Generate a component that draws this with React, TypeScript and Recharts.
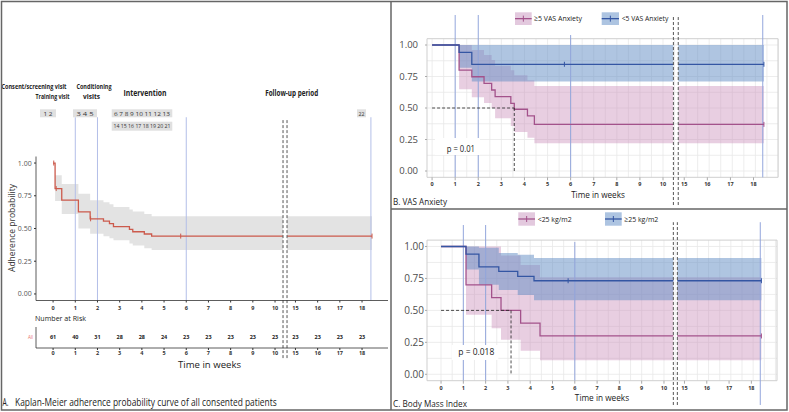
import React from 'react';
import {
  ComposedChart, Line, Area, XAxis, YAxis, CartesianGrid,
  ReferenceLine, ReferenceArea, Scatter, LabelList,
} from 'recharts';

// ---------------- data ----------------
const weekTicks = [0, 1, 2, 3, 4, 5, 6, 7, 8, 9, 10, 15, 16, 17, 18];
const probTicks = [0, 0.25, 0.5, 0.75, 1];
const visitWeeks = [1, 2, 6, 18.4];
const END_WEEK = 18.45;

// Panel A – all consented patients
const allTimes = [0, 0.09, 0.39, 1.14, 1.67, 2.27, 2.54, 2.72, 3.44, 3.59, 4.11, 4.44];
const allSurv = [1, 0.805, 0.716, 0.627, 0.574, 0.556, 0.538, 0.515, 0.493, 0.475, 0.458, 0.442];
const allLower = [1, 0.71, 0.61, 0.5, 0.46, 0.44, 0.425, 0.41, 0.385, 0.37, 0.35, 0.335];
const allUpper = [1, 0.906, 0.84, 0.766, 0.716, 0.7, 0.685, 0.665, 0.645, 0.63, 0.61, 0.594];
const allCensor = [0.03, 0.14, 1.69, 5.75, 18.45];
const atRisk = [61, 40, 31, 28, 28, 24, 23, 23, 23, 23, 23, 23, 23, 23, 23];

// Panel B – VAS anxiety
const vasHighTimes = [0, 1.17, 1.72, 2.25, 2.58, 2.73, 3.41, 3.56, 4.13, 4.43];
const vasHighSurv = [1, 0.8, 0.748, 0.696, 0.643, 0.59, 0.537, 0.49, 0.437, 0.37];
const vasHighLower = [1, 0.648, 0.585, 0.54, 0.5, 0.418, 0.357, 0.31, 0.264, 0.22];
const vasHighUpper = [1, 1, 0.96, 0.92, 0.88, 0.836, 0.8, 0.76, 0.72, 0.675];
const vasHighCensor = [18.45];
const vasLowTimes = [0, 1.17, 1.72];
const vasLowSurv = [1, 0.942, 0.847];
const vasLowLower = [1, 0.82, 0.71];
const vasLowUpper = [1, 1, 1];
const vasLowCensor = [5.73, 18.45];
const vasMedian = 3.56;

// Panel C – body mass index
const bmiLowTimes = [0, 1.12, 2.27, 2.69, 3.57, 4.44];
const bmiLowSurv = [1, 0.7, 0.6, 0.5, 0.4, 0.3];
const bmiLowLower = [1, 0.465, 0.36, 0.27, 0.185, 0.11];
const bmiLowUpper = [1, 1, 1, 0.93, 0.855, 0.76];
const bmiLowCensor = [18.45];
const bmiHighTimes = [0, 1.12, 1.7, 2.59, 3.44, 4.17];
const bmiHighSurv = [1, 0.94, 0.84, 0.805, 0.766, 0.732];
const bmiHighLower = [1, 0.82, 0.7, 0.66, 0.62, 0.58];
const bmiHighUpper = [1, 1, 0.99, 0.95, 0.935, 0.91];
const bmiHighCensor = [5.7, 18.45];
const bmiMedian = 3.14;

// ---------------- helpers ----------------
const SHIFT = 4.08; // axis break: weeks 11-14 are cut out
const pos = (t: number) => (t >= 12 ? t - SHIFT : t);
const tickPos = weekTicks.map(pos);
const tickLabel = (v: number) => {
  const i = tickPos.findIndex((p) => Math.abs(p - v) < 1e-6);
  return i >= 0 ? String(weekTicks[i]) : '';
};
const survAt = (times: number[], surv: number[], t: number) => {
  let v = surv[0];
  times.forEach((tt, i) => { if (tt <= t) v = surv[i]; });
  return v;
};
function curve(times: number[], surv: number[], brk: number[]) {
  const last = surv[surv.length - 1];
  const pre = times.map((t, i) => ({ x: pos(t), y: surv[i] })).concat([{ x: brk[0], y: last }]);
  const post = [{ x: brk[1], y: last }, { x: pos(END_WEEK), y: last }];
  return { pre, post };
}
function band(times: number[], lo: number[], hi: number[], brk: number[]) {
  const n = times.length - 1;
  const pre = times.map((t, i) => ({ x: pos(t), band: [lo[i], hi[i]] })).concat([{ x: brk[0], band: [lo[n], hi[n]] }]);
  const post = [{ x: brk[1], band: [lo[n], hi[n]] }, { x: pos(END_WEEK), band: [lo[n], hi[n]] }];
  return { pre, post };
}
const censorPts = (times: number[], surv: number[], c: number[]) =>
  c.map((t) => ({ x: pos(t), y: survAt(times, surv, t) }));

const tickShape = (color: string) => (p: any) => (
  <line x1={p.cx} x2={p.cx} y1={p.cy - 2.5} y2={p.cy + 2.5} stroke={color} strokeWidth={1} />
);

const bandAreas = (b: any, fill: string, op: number, key: string) => [
  <Area key={key + 'pre'} data={b.pre} dataKey="band" type="stepAfter" fill={fill} fillOpacity={op}
    stroke="none" dot={false} activeDot={false} isAnimationActive={false} />,
  <Area key={key + 'post'} data={b.post} dataKey="band" type="stepAfter" fill={fill} fillOpacity={op}
    stroke="none" dot={false} activeDot={false} isAnimationActive={false} />,
];
const curveLines = (c: any, color: string, key: string) => [
  <Line key={key + 'pre'} data={c.pre} dataKey="y" type="stepAfter" stroke={color} strokeWidth={1.3}
    dot={false} activeDot={false} isAnimationActive={false} />,
  <Line key={key + 'post'} data={c.post} dataKey="y" type="stepAfter" stroke={color} strokeWidth={1.3}
    dot={false} activeDot={false} isAnimationActive={false} />,
];
const vLine = (x: number, y0: number, y1: number, color: string, key: string, dash?: string) => (
  <ReferenceLine key={key} segment={[{ x, y: y0 }, { x, y: y1 }]} stroke={color}
    strokeWidth={1} strokeDasharray={dash} ifOverflow="visible" />
);

const PINK = '#a3528b';
const BLUE = '#3456a3';
const PINK_FILL = '#c78bb8';
const BLUE_FILL = '#5f8cc4';
const VISIT = '#93a6dc';
const FONT = "'Open Sans', sans-serif";

// ---------------- text helper ----------------
const T = ({ x, y, w, size = 9.5, weight = 400, fill = '#222', anchor = 'start', rotate = false, children }: any) => (
  <text x={x} y={y} fontSize={size} fontWeight={weight} fill={fill} textAnchor={anchor}
    textLength={w} lengthAdjust="spacingAndGlyphs"
    transform={rotate ? `rotate(-90 ${x} ${y})` : undefined}>{children}</text>
);

// ---------------- Panel A ----------------
const A_DOM = [-0.77, 15.09];
const aCurve = curve(allTimes, allSurv, [10.36, 10.54]);
const aBand = band(allTimes, allLower, allUpper, [10.36, 10.54]);

function PanelA() {
  return (
    <div style={{ position: 'absolute', left: 0, top: 100 }}>
      <ComposedChart width={391} height={265} margin={{ top: 56.5, right: 3, bottom: 44.5, left: 0 }}>
        <XAxis dataKey="x" type="number" domain={A_DOM} ticks={tickPos} interval={0} allowDataOverflow
          tickFormatter={tickLabel} height={20} tickSize={2} tickMargin={3.5}
          axisLine={{ stroke: '#333', strokeWidth: 0.8 }} tickLine={{ stroke: '#333' }}
          tick={{ fontSize: 5.5, fontWeight: 700, fill: '#333' }} />
        <YAxis dataKey="y" type="number" domain={[-0.05, 1.05]} ticks={probTicks} interval={0} allowDataOverflow
          width={36} tickSize={2} tickMargin={2.3} tickFormatter={(v: number) => v.toFixed(2)}
          axisLine={{ stroke: '#333', strokeWidth: 0.8 }} tickLine={{ stroke: '#333' }}
          tick={{ fontSize: 7, fill: '#555' }} />
        {bandAreas(aBand, '#e3e3e3', 1, 'ab')}
        {visitWeeks.map((w, i) => vLine(pos(w), -0.05, 1.35, '#b3bfe8', 'av' + i))}
        {curveLines(aCurve, '#cc5a4c', 'ac')}
        <Scatter data={censorPts(allTimes, allSurv, allCensor)} shape={tickShape('#cc5a4c')} isAnimationActive={false} />
        {vLine(10.36, -0.49, 1.33, '#555', 'ad1', '3 2')}
        {vLine(10.54, -0.49, 1.33, '#555', 'ad2', '3 2')}
      </ComposedChart>
    </div>
  );
}

const riskData = weekTicks.map((w, i) => ({ x: pos(w), y: 0.5, n: atRisk[i] }));

function RiskTable() {
  return (
    <div style={{ position: 'absolute', left: 0, top: 322 }}>
      <ComposedChart width={391} height={40} margin={{ top: 5, right: 3, bottom: 2, left: 0 }}>
        <XAxis dataKey="x" type="number" domain={A_DOM} ticks={tickPos} interval={0} allowDataOverflow
          tickFormatter={tickLabel} height={12} tickSize={2} tickMargin={1}
          axisLine={{ stroke: '#333', strokeWidth: 0.8 }} tickLine={{ stroke: '#333' }}
          tick={{ fontSize: 5.5, fontWeight: 700, fill: '#333' }} />
        <YAxis dataKey="y" type="number" domain={[0, 1]} ticks={[0.5]} interval={0} width={36}
          tickSize={0} tickMargin={3} tickFormatter={() => 'All'}
          axisLine={{ stroke: '#333', strokeWidth: 0.8 }} tick={{ fontSize: 4.5, fill: '#e8716b' }} />
        <Scatter data={riskData} shape={() => <g />} isAnimationActive={false}>
          <LabelList dataKey="n" position="center" style={{ fontSize: 5.5, fontWeight: 700, fill: '#222' }} />
        </Scatter>
      </ComposedChart>
    </div>
  );
}

// ---------------- Panels B & C ----------------
const gridX: number[] = [];
for (let v = 0; v <= 15; v += 0.5) gridX.push(v);
const gridY = [0, 0.125, 0.25, 0.375, 0.5, 0.625, 0.75, 0.875, 1];

function KMPanel(props: any) {
  const { left, top, width, height, margin, dom, yTickMargin, yFont, xTickMargin, titleOffset, titleDx, showTitle,
    bandsPink, bandsBlue, curvePink, curveBlue, censPink, censBlue, median,
    visits, breaks } = props;
  return (
    <div style={{ position: 'absolute', left, top }}>
      <ComposedChart width={width} height={height} margin={margin}>
        <CartesianGrid horizontalValues={gridY} verticalValues={gridX} stroke="#e9e9e9" strokeWidth={0.8} />
        <ReferenceArea x1={dom[0]} x2={dom[1]} y1={-0.05} y2={1.05} fill="none" stroke="#cfcfcf" strokeWidth={1} />
        <XAxis dataKey="x" type="number" domain={dom} ticks={tickPos} interval={0} allowDataOverflow
          tickFormatter={tickLabel} height={20} tickSize={3} tickMargin={xTickMargin}
          axisLine={false} tickLine={{ stroke: '#aaa' }}
          tick={{ fontSize: 5.5, fontWeight: 700, fill: '#333' }}
          label={showTitle ? { value: 'Time in weeks', position: 'insideBottom', offset: titleOffset, dx: titleDx,
            fontSize: 9.5, fill: '#222', textLength: 54.3, lengthAdjust: 'spacingAndGlyphs' } : undefined} />
        <YAxis dataKey="y" type="number" domain={[-0.05, 1.05]} ticks={probTicks} interval={0} allowDataOverflow
          width={35} tickSize={2} tickMargin={yTickMargin} tickFormatter={(v: number) => v.toFixed(2)}
          axisLine={false} tickLine={{ stroke: '#aaa' }} tick={{ fontSize: yFont, fill: '#4d4d4d' }} />
        {bandAreas(bandsPink, PINK_FILL, 0.42, 'bp')}
        {bandAreas(bandsBlue, BLUE_FILL, 0.5, 'bb')}
        {visits.map((v: any, i: number) => vLine(v.x, v.y0, v.y1, VISIT, 'v' + i))}
        {curveLines(curvePink, PINK, 'cp')}
        {curveLines(curveBlue, BLUE, 'cb')}
        <Scatter data={censPink} shape={tickShape(PINK)} isAnimationActive={false} />
        <Scatter data={censBlue} shape={tickShape(BLUE)} isAnimationActive={false} />
        <ReferenceLine segment={[{ x: 0, y: 0.5 }, { x: median, y: 0.5 }]} stroke="#222" strokeWidth={0.8} strokeDasharray="3 2" ifOverflow="visible" />
        <ReferenceLine segment={[{ x: median, y: 0.5 }, { x: median, y: 0 }]} stroke="#222" strokeWidth={0.8} strokeDasharray="3 2" ifOverflow="visible" />
        {breaks.map((b: any, i: number) => vLine(b.x, b.y0, b.y1, '#555', 'br' + i, '3 2'))}
      </ComposedChart>
    </div>
  );
}

const B_BRK = [10.45, 10.66];
const C_BRK = [10.42, 10.6];

const panelB = {
  left: 392, top: 2, width: 395, height: 206,
  margin: { top: 36.7, right: 9, bottom: 10.7, left: 0 },
  dom: [-0.22, 14.98], yTickMargin: 7, yFont: 9.5, xTickMargin: 2, titleOffset: -1, titleDx: -4.5, showTitle: false,
  bandsPink: band(vasHighTimes, vasHighLower, vasHighUpper, B_BRK),
  bandsBlue: band(vasLowTimes, vasLowLower, vasLowUpper, B_BRK),
  curvePink: curve(vasHighTimes, vasHighSurv, B_BRK),
  curveBlue: curve(vasLowTimes, vasLowSurv, B_BRK),
  censPink: censorPts(vasHighTimes, vasHighSurv, vasHighCensor),
  censBlue: censorPts(vasLowTimes, vasLowSurv, vasLowCensor),
  median: vasMedian,
  visits: [
    { x: pos(visitWeeks[0]), y0: -0.05, y1: 1.238 },
    { x: pos(visitWeeks[1]), y0: -0.05, y1: 1.238 },
    { x: pos(visitWeeks[2]), y0: -0.05, y1: 1.079 },
    { x: pos(visitWeeks[3]), y0: -0.05, y1: 1.238 },
  ],
  breaks: [{ x: B_BRK[0], y0: -0.27, y1: 1.238 }, { x: B_BRK[1], y0: -0.27, y1: 1.238 }],
};

const panelC = {
  left: 392, top: 210, width: 395, height: 199,
  margin: { top: 30.1, right: 10, bottom: 8.3, left: 0 },
  dom: [-0.63, 15.07], yTickMargin: 1, yFont: 10, xTickMargin: 2.6, titleOffset: -0.5, titleDx: 0, showTitle: true,
  bandsPink: band(bmiLowTimes, bmiLowLower, bmiLowUpper, C_BRK),
  bandsBlue: band(bmiHighTimes, bmiHighLower, bmiHighUpper, C_BRK),
  curvePink: curve(bmiLowTimes, bmiLowSurv, C_BRK),
  curveBlue: curve(bmiHighTimes, bmiHighSurv, C_BRK),
  censPink: censorPts(bmiLowTimes, bmiLowSurv, bmiLowCensor),
  censBlue: censorPts(bmiHighTimes, bmiHighSurv, bmiHighCensor),
  median: bmiMedian,
  visits: [
    { x: pos(visitWeeks[0]), y0: -0.05, y1: 1.168 },
    { x: pos(visitWeeks[1]), y0: -0.05, y1: 1.168 },
    { x: pos(visitWeeks[2]), y0: -0.05, y1: 1.035 },
    { x: pos(visitWeeks[3]), y0: -0.24, y1: 1.19 },
  ],
  breaks: [{ x: C_BRK[0], y0: -0.24, y1: 1.19 }, { x: C_BRK[1], y0: -0.24, y1: 1.19 }],
};

// ---------------- overlay (annotations, legends, frame) ----------------
const LegendKey = ({ x, y, w, h, fill, color }: any) => (
  <g>
    <rect x={x} y={y} width={w} height={h} fill={fill} />
    <line x1={x} x2={x + w} y1={y + h / 2} y2={y + h / 2} stroke={color} strokeWidth={1.3} />
    <line x1={x + w / 2} x2={x + w / 2} y1={y + h / 2 - 3} y2={y + h / 2 + 3} stroke={color} strokeWidth={1} />
  </g>
);

const VisitBox = ({ x0, x1, y0, y1, label, w }: any) => (
  <g>
    <rect x={x0} y={y0} width={x1 - x0} height={y1 - y0} fill="#e0e0e0" />
    <T x={(x0 + x1) / 2} y={(y0 + y1) / 2 + 2.2} w={w} size={6} fill="#333" anchor="middle">{label}</T>
  </g>
);

function Overlay() {
  return (
    <svg width={789} height={412} style={{ position: 'absolute', left: 0, top: 0, pointerEvents: 'none' }}>
      {/* Panel A header */}
      <T x={34} y={88.5} w={65} size={6.5} weight={700} anchor="middle">Consent/screening visit</T>
      <T x={52.5} y={98.5} w={34} size={7.5} weight={700} anchor="middle">Training visit</T>
      <T x={94} y={88.5} w={35} size={6.5} weight={700} anchor="middle">Conditioning</T>
      <T x={91.5} y={98.5} w={17} size={7.5} weight={700} anchor="middle">visits</T>
      <T x={145} y={96} w={43} size={9} weight={700} anchor="middle">Intervention</T>
      <T x={291.7} y={96} w={53} size={9} weight={700} anchor="middle">Follow-up period</T>
      <VisitBox x0={40} x1={56} y0={109.3} y1={117.3} label="1 2" w={9} />
      <VisitBox x0={73} x1={97} y0={109.3} y1={117.3} label="3 4 5" w={17} />
      <VisitBox x0={111.7} x1={172.3} y0={109.3} y1={117.3} label="6 7 8 9 10 11 12 13" w={56} />
      <VisitBox x0={111.7} x1={172.3} y0={121.7} y1={130.7} label="14 15 16 17 18 19 20 21" w={57} />
      <VisitBox x0={357} x1={366} y0={109.3} y1={117.3} label="22" w={6} />
      <T x={14.5} y={228} w={88} size={9.5} fill="#333" anchor="middle" rotate>Adherence probability</T>
      <T x={35} y={321} w={51} size={8} fill="#222">Number at Risk</T>
      <T x={209.5} y={368} w={63} size={9.5} anchor="middle">Time in weeks</T>
      <T x={2.5} y={405.5} w={6} size={10}>A.</T>
      <T x={15} y={405.5} w={261.7} size={10}>Kaplan-Meier adherence probability curve of all consented patients</T>

      {/* Panel B */}
      <LegendKey x={515} y={12.3} w={16.7} h={12.7} fill="#e3c9de" color={PINK} />
      <T x={534} y={21.3} w={48} size={8}>≥5 VAS Anxiety</T>
      <LegendKey x={601.7} y={12.3} w={17.3} h={12.7} fill="#adc4e1" color={BLUE} />
      <T x={621.7} y={21.3} w={46.6} size={8}>&lt;5 VAS Anxiety</T>
      <rect x={435} y={138} width={45} height={17} fill="#fff" />
      <T x={446.7} y={151.5} w={28.3} size={9.5}>p = 0.01</T>
      <T x={393} y={205} w={54} size={9.5}>B. VAS Anxiety</T>

      {/* Panel C */}
      <LegendKey x={518.3} y={212.3} w={16.7} h={13.4} fill="#e3c9de" color={PINK} />
      <T x={537.7} y={222} w={34} size={8}>&lt;25 kg/m2</T>
      <LegendKey x={605} y={212.3} w={16.7} h={13.4} fill="#adc4e1" color={BLUE} />
      <T x={624.3} y={222} w={34} size={8}>≥25 kg/m2</T>
      <rect x={451.7} y={345} width={46.6} height={15} fill="#fff" />
      <T x={458.3} y={355.3} w={36} size={9.5}>p = 0.018</T>
      <T x={393} y={406.5} w={74} size={9.5}>C. Body Mass Index</T>

      {/* frame */}
      <rect x={1.5} y={1.5} width={785.5} height={408.5} fill="none" stroke="#666" strokeWidth={1.5} />
      <line x1={391} x2={391} y1={1.5} y2={410} stroke="#666" strokeWidth={1.5} />
      <line x1={391} x2={787} y1={209} y2={209} stroke="#666" strokeWidth={1.5} />
    </svg>
  );
}

export default function App() {
  return (
    <div style={{ position: 'absolute', left: 0, top: 0, width: 789, height: 412, background: '#fff', fontFamily: FONT, overflow: 'hidden' }}>
      <PanelA />
      <RiskTable />
      <KMPanel {...panelB} />
      <KMPanel {...panelC} />
      <Overlay />
      <div style={{ position: 'absolute', left: 563, top: 189, width: 70, textAlign: 'center', fontSize: 9.5, lineHeight: '12px',
        color: '#222', whiteSpace: 'nowrap', transform: 'scaleX(0.86)', transformOrigin: 'center' }}>Time in weeks</div>
    </div>
  );
}
